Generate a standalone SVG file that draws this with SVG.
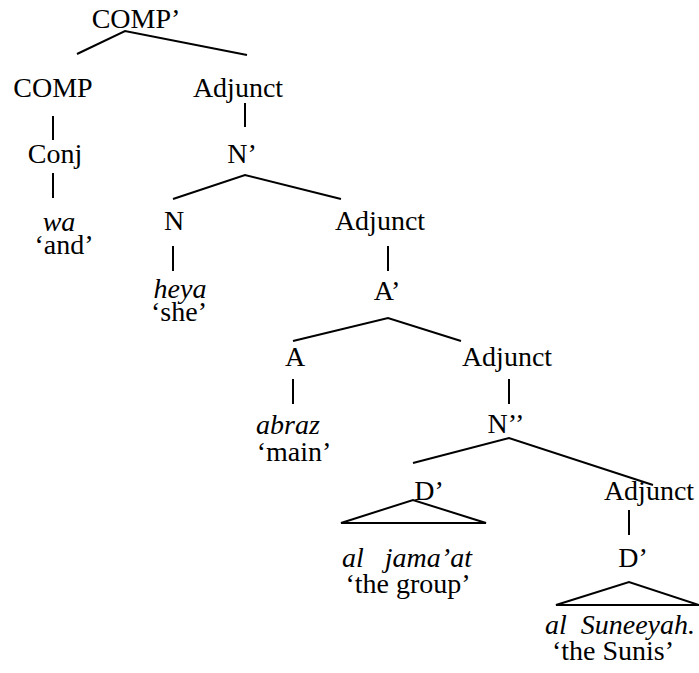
<svg xmlns="http://www.w3.org/2000/svg" width="699" height="673" viewBox="0 0 699 673">
  <style>
    .lbl { font-family: "Liberation Serif", "Times New Roman", serif; font-size: 28px; fill: #000; text-anchor: middle; }
    .it { font-style: italic; }
    .edge { stroke: #000; stroke-width: 2; fill: none; }
  </style>
  <rect width="699" height="673" fill="#fff"/>

  <!-- tree branches -->
  <g id="connectors">
    <polyline class="edge" points="77,54 125,31 247,55"/>
    <line class="edge" x1="53" y1="116" x2="53" y2="140"/>
    <line class="edge" x1="53" y1="173" x2="53" y2="198"/>
    <line class="edge" x1="245" y1="103" x2="245" y2="127"/>
    <polyline class="edge" points="173,199 245,175 341,199"/>
    <line class="edge" x1="173" y1="246" x2="173" y2="271"/>
    <line class="edge" x1="388" y1="246" x2="388" y2="271"/>
    <polyline class="edge" points="293,341 388,318 461,341"/>
    <line class="edge" x1="293" y1="379" x2="293" y2="404"/>
    <line class="edge" x1="509" y1="379" x2="509" y2="404"/>
    <polyline class="edge" points="413,463 509,438 653,485"/>
    <polygon class="edge" points="341,523 413,500 486,523"/>
    <line class="edge" x1="629" y1="510" x2="629" y2="535"/>
    <polygon class="edge" points="556,605 629,582 699,605"/>
  </g>

  <g id="comp-bar"><text class="lbl" x="136" y="28">COMP’</text></g>
  <g id="comp"><text class="lbl" x="53" y="97">COMP</text></g>
  <g id="adjunct-1"><text class="lbl" x="238" y="97">Adjunct</text></g>
  <g id="conj"><text class="lbl" x="55" y="163">Conj</text></g>
  <g id="n-bar"><text class="lbl" x="242" y="163">N’</text></g>
  <g id="wa"><text class="lbl it" x="59" y="231">wa</text><text class="lbl" x="64" y="254">‘and’</text></g>
  <g id="n"><text class="lbl" x="174" y="230">N</text></g>
  <g id="adjunct-2"><text class="lbl" x="380" y="230">Adjunct</text></g>
  <g id="heya"><text class="lbl it" x="180" y="298">heya</text><text class="lbl" x="179" y="321">‘she’</text></g>
  <g id="a-bar"><text class="lbl" x="387" y="300">A’</text></g>
  <g id="a"><text class="lbl" x="295" y="366">A</text></g>
  <g id="adjunct-3"><text class="lbl" x="507" y="366">Adjunct</text></g>
  <g id="abraz"><text class="lbl it" x="288" y="434">abraz</text><text class="lbl" x="294" y="461">‘main’</text></g>
  <g id="n-double-bar"><text class="lbl" x="506" y="433">N’’</text></g>
  <g id="d-bar-1"><text class="lbl" x="429" y="500">D’</text></g>
  <g id="adjunct-4"><text class="lbl" x="649" y="500">Adjunct</text></g>
  <g id="al-jamaat"><text class="lbl it" x="407" y="567" xml:space="preserve">al   jama’at</text><text class="lbl" x="408" y="593">‘the group’</text></g>
  <g id="d-bar-2"><text class="lbl" x="633" y="567">D’</text></g>
  <g id="al-suneeyah"><text class="lbl it" x="620" y="634" xml:space="preserve">al  Suneeyah.</text><text class="lbl" x="613" y="660">‘the Sunis’</text></g>
</svg>
